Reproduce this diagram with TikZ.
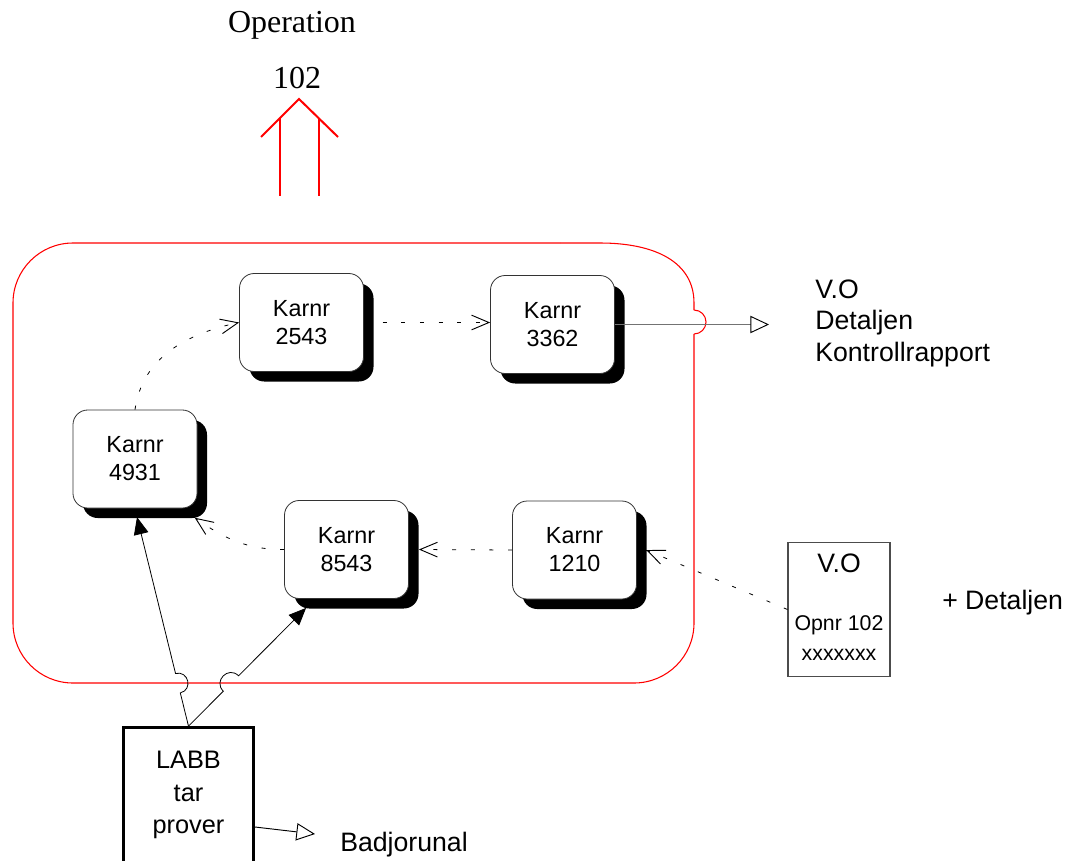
\documentclass[tikz,border=0pt]{standalone}
\usepackage{fontspec}
\setmainfont{Liberation Serif}
\newfontfamily\arialfont{Liberation Sans}
\usetikzlibrary{arrows.meta,shadows,calc}

\begin{document}
\begin{tikzpicture}[x=0.75pt,y=-0.75pt,
  karnr/.style={draw=black!80, line width=0.6pt, fill=white, rounded corners=11pt,
    minimum width=93pt, minimum height=73.5pt, align=center, inner sep=0pt,
    font=\arialfont\fontsize{17.5}{21}\selectfont,
    drop shadow={shadow xshift=7.5pt, shadow yshift=-7.5pt, fill=black, opacity=1}},
  sanstext/.style={inner sep=0pt, font=\arialfont\fontsize{20}{23.6}\selectfont},
  smalltext/.style={inner sep=0pt, font=\arialfont\fontsize{16}{19}\selectfont},
  serifttext/.style={inner sep=0pt, font=\fontsize{24}{28}\selectfont},
  flow/.style={black, line width=0.6pt, dash pattern=on 3pt off 11pt,
    -{Straight Barb[length=13pt, width=11pt, line width=0.7pt]}},
  solidflow/.style={black, line width=0.6pt, -{Triangle[length=13pt, width=11pt]}},
  opentip/.style={line width=0.7pt, -{Triangle[open, length=14pt, width=13pt, fill=white, color=black, line width=0.7pt]}},
  redline/.style={red, line width=0.8pt},
  redarrow/.style={red, line width=1.5pt}
]
\useasboundingbox (0,0) rectangle (1066,860);
\clip (0,0) rectangle (1066,860);

% heading and the hollow arrow above the process
\node[serifttext] (op) at (292,25) {Operation};
\node[serifttext] (opnum) at (297,78) {102};
\draw[redarrow] (261,137) -- (299,99) -- (338,137);
\draw[redarrow] (280,118) -- (280,196);
\draw[redarrow] (319,118) -- (319,196);

% process boundary with a jump where the output line crosses it
\draw[redline] (694,310) -- (694,303) .. controls (694,262) and (655,243) .. (600,243) -- (560,243);
\draw[redline, rounded corners=45pt] (560,243) -- (13,243) -- (13,683) -- (694,683) -- (694,334);
\draw[redline] (694,334) arc[start angle=-90, end angle=90, radius=9pt];

% work stations
\node[karnr] (k2543) at (301.5,322.5) {Karnr\\2543};
\node[karnr] (k3362) at (552.5,324.5) {Karnr\\3362};
\node[karnr] (k4931) at (135,459) {Karnr\\4931};
\node[karnr] (k8543) at (346.5,549.5) {Karnr\\8543};
\node[karnr] (k1210) at (574.5,550) {Karnr\\1210};

% work order card
\node[draw=black!70, line width=0.8pt, minimum width=76.5pt, minimum height=101pt, inner sep=0pt] (vo) at (839,609.5) {};
\node[sanstext] (votitle) at (839,563) {V.O};
\node[smalltext] (vonr) at (839,625) {Opnr 102};
\node[smalltext] (vox) at (839,655) {xxxxxxx};
\node[sanstext, anchor=west] (plus) at (942,603) {+ Detaljen};

% output documents
\node[sanstext, anchor=west, align=left] (outdocs) at (815,323) {V.O\\Detaljen\\Kontrollrapport};
\coordinate (voout) at (769,324.5);

% laboratory
\node[draw, line width=2.25pt, minimum width=97.5pt, minimum height=101pt, inner sep=0pt,
  align=center, font=\arialfont\fontsize{19}{24.4}\selectfont] (labb) at (188.5,795) {LABB\\tar\\prover};
\node[sanstext, anchor=west] (badj) at (340,845) {Badjorunal};
\coordinate (badjin) at (315,834);

% material flow between stations
\draw[flow] (k4931.north) to[out=82, in=192] (k2543.west);
\draw[flow] (k2543.east) -- (k2543.east -| k3362.west);
\draw[flow] (k1210.west) -- ([xshift=7.5pt]k8543.east);
\draw[flow] (k8543.west) to[out=180, in=-35] ([xshift=-2pt,yshift=-7pt]k4931.south east);
\draw[flow] (vo.west) -- ([xshift=7pt]k1210.east);
\draw[black, line width=0.6pt] ([xshift=7pt]k1210.east) -- ([xshift=16pt]k1210.east);

% finished output
\draw[opentip, black!55, line width=1.1pt] (k3362.east) -- (voout);
\draw[opentip] ([yshift=-24pt]labb.east) -- (badjin);

% samples from the lab, jumping over the boundary
\coordinate (e1) at ([xshift=1.5pt,yshift=-6.5pt]k4931.south);
\coordinate (j1a) at ($(labb.north)!0.159!(e1)$);
\coordinate (j1b) at ($(labb.north)!0.252!(e1)$);
\draw[solidflow] (labb.north) -- (j1a)
  .. controls ($(j1a)!0.667!-90:(j1b)$) and ($(j1b)!0.667!90:(j1a)$) .. (j1b) -- (e1);

\coordinate (e2) at ([xshift=16.5pt,yshift=-6.75pt]k8543.south west);
\coordinate (j2a) at ($(labb.north)!0.296!(e2)$);
\coordinate (j2b) at ($(labb.north)!0.426!(e2)$);
\draw[solidflow] (labb.north) -- (j2a)
  .. controls ($(j2a)!0.667!90:(j2b)$) and ($(j2b)!0.667!-90:(j2a)$) .. (j2b) -- (e2);
\end{tikzpicture}
\end{document}
